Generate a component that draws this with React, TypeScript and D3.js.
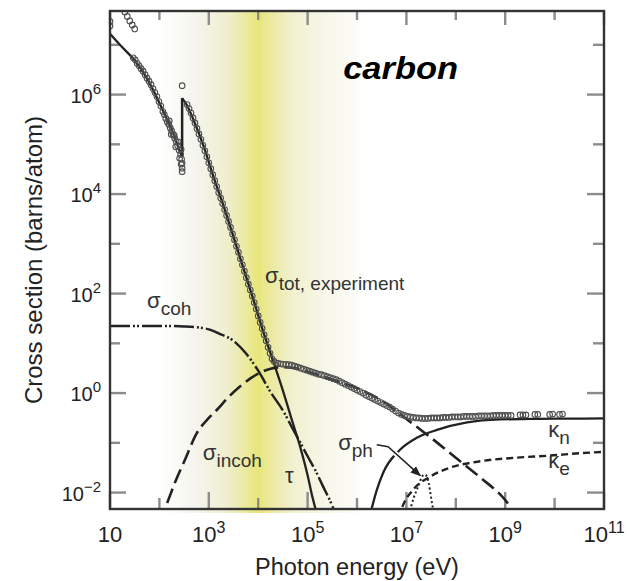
import React from 'react';
import * as d3 from 'd3';

// all values are log10: photon energy in eV, cross section in barns/atom

// experimental total cross section (open circles)
const expPoints: [number, number][] = [
  [1.0, 7.47], [1.0, 7.38], [1.3, 7.66], [1.35, 7.57], [1.4, 7.48], [1.45, 7.4], [1.5, 7.32],
  [1.47, 6.74], [1.51, 6.7], [1.55, 6.63], [1.59, 6.58], [1.63, 6.52], [1.67, 6.47], [1.71, 6.4],
  [1.75, 6.33], [1.79, 6.27], [1.83, 6.2], [1.87, 6.12], [1.91, 6.04], [1.95, 5.96], [1.99, 5.86],
  [2.03, 5.77], [2.07, 5.66], [2.1, 5.6], [2.13, 5.52], [2.16, 5.45], [2.19, 5.4], [2.22, 5.33],
  [2.25, 5.27], [2.28, 5.2], [2.31, 5.12], [2.34, 5.05], [2.37, 4.97], [2.4, 4.88], [2.43, 4.8],
  [2.45, 4.7], [2.46, 4.62], [2.46, 4.52],
  [2.2, 5.47], [2.24, 5.2], [2.3, 5.18], [2.33, 4.95], [2.38, 5.05], [2.41, 4.72], [2.44, 4.9],
  [2.44, 4.6], [2.46, 4.45],
  [2.46, 6.18],
  [2.56, 5.8], [2.6, 5.72], [2.64, 5.63], [2.68, 5.53], [2.72, 5.43], [2.76, 5.32], [2.8, 5.21],
  [2.84, 5.1], [2.88, 4.98], [2.92, 4.87], [2.96, 4.75], [3.0, 4.63], [3.04, 4.51], [3.08, 4.39],
  [3.12, 4.27], [3.16, 4.15], [3.2, 4.03], [3.24, 3.92], [3.28, 3.81], [3.32, 3.69], [3.36, 3.57],
  [3.4, 3.45], [3.44, 3.33], [3.48, 3.2], [3.52, 3.08], [3.56, 2.95], [3.6, 2.83], [3.64, 2.7],
  [3.68, 2.58], [3.72, 2.45], [3.76, 2.32], [3.8, 2.19], [3.84, 2.07], [3.88, 1.95], [3.92, 1.82],
  [3.96, 1.69], [4.0, 1.55], [4.04, 1.42], [4.08, 1.3], [4.12, 1.17], [4.16, 1.05], [4.2, 0.92],
  [4.24, 0.8], [4.28, 0.69],
  [4.32, 0.64], [4.36, 0.61], [4.4, 0.6], [4.45, 0.59], [4.5, 0.58], [4.56, 0.58], [4.62, 0.57],
  [4.68, 0.56], [4.74, 0.54], [4.8, 0.52], [4.86, 0.5], [4.92, 0.48], [4.98, 0.46], [5.04, 0.44],
  [5.1, 0.42], [5.16, 0.4], [5.22, 0.38], [5.28, 0.37], [5.34, 0.35], [5.4, 0.33], [5.46, 0.31],
  [5.52, 0.29], [5.58, 0.27], [5.64, 0.24], [5.7, 0.21], [5.76, 0.18], [5.82, 0.15], [5.88, 0.12],
  [5.94, 0.09], [6.0, 0.06], [6.06, 0.03], [6.12, 0.0], [6.18, -0.04], [6.24, -0.07], [6.3, -0.1],
  [6.36, -0.13], [6.42, -0.16], [6.48, -0.19], [6.54, -0.22], [6.6, -0.25], [6.66, -0.28],
  [6.72, -0.32], [6.78, -0.36], [6.84, -0.4], [6.9, -0.43], [6.96, -0.45], [7.02, -0.47],
  [7.08, -0.48], [7.14, -0.49], [7.2, -0.5], [7.26, -0.5], [7.32, -0.51], [7.38, -0.51],
  [7.44, -0.51], [7.5, -0.5], [7.56, -0.5], [7.62, -0.5], [7.68, -0.5], [7.74, -0.49], [7.8, -0.49],
  [7.86, -0.49], [7.92, -0.48], [7.98, -0.48], [8.04, -0.48], [8.1, -0.48], [8.16, -0.47],
  [8.22, -0.47], [8.28, -0.47], [8.34, -0.47], [8.4, -0.47], [8.46, -0.46], [8.52, -0.46],
  [8.58, -0.46], [8.64, -0.46], [8.7, -0.46], [8.76, -0.45], [8.82, -0.45], [8.88, -0.45],
  [8.94, -0.45], [9.0, -0.45], [9.06, -0.45], [9.12, -0.45],
  [9.3, -0.44], [9.36, -0.44], [9.42, -0.44], [9.6, -0.43], [9.66, -0.43], [9.9, -0.43],
  [9.96, -0.42], [10.1, -0.43], [10.16, -0.42],
];

// photoelectric tau (solid), split at the carbon K edge
const tauPreE = [1.0, 1.2, 1.47, 1.67, 1.87, 2.07, 2.26, 2.38, 2.46];
const tauPreS = [7.22, 7.0, 6.72, 6.45, 6.1, 5.68, 5.27, 4.95, 4.75];
const tauPostE = [2.46, 2.56, 2.7, 2.9, 3.1, 3.3, 3.5, 3.7, 3.9, 4.1, 4.3, 4.5, 4.7, 4.85, 5.0, 5.1, 5.18];
const tauPostS = [5.93, 5.78, 5.47, 4.95, 4.33, 3.76, 3.14, 2.51, 1.89, 1.24, 0.65, 0.05, -0.6, -1.08, -1.65, -2.1, -2.4];

// coherent (Rayleigh), dash-dot-dot
const cohE = [1.0, 1.5, 2.0, 2.5, 2.8, 3.0, 3.2, 3.5, 3.75, 4.0, 4.25, 4.5, 4.7, 4.85, 5.0, 5.15, 5.3, 5.5, 5.55];
const cohS = [1.35, 1.35, 1.35, 1.34, 1.32, 1.28, 1.2, 1.05, 0.8, 0.45, 0.02, -0.35, -0.72, -0.99, -1.27, -1.54, -1.85, -2.27, -2.4];

// incoherent (Compton), long dashes
const incohE = [2.0, 2.11, 2.36, 2.5, 2.76, 3.0, 3.17, 3.4, 3.63, 3.85, 4.04, 4.25, 4.5, 4.75, 5.0, 5.5, 6.0, 6.5, 7.0, 7.5, 8.0, 8.5, 9.0, 9.2];
const incohS = [-2.6, -2.33, -1.69, -1.38, -0.8, -0.5, -0.33, -0.08, 0.13, 0.3, 0.41, 0.49, 0.52, 0.5, 0.43, 0.27, 0.1, -0.15, -0.52, -0.9, -1.3, -1.7, -2.15, -2.42];

// pair production, nuclear field (solid)
const kapNE = [6.25, 6.3, 6.4, 6.53, 6.87, 7.21, 7.62, 8.23, 8.89, 9.5, 10.0, 11.0];
const kapNS = [-2.5, -2.31, -1.95, -1.6, -1.14, -0.9, -0.74, -0.59, -0.53, -0.52, -0.515, -0.51];

// pair production, electron field (short dashes)
const kapEE = [6.85, 6.91, 7.13, 7.48, 7.88, 8.5, 9.2, 9.85, 10.5, 11.0];
const kapES = [-2.5, -2.31, -1.95, -1.68, -1.5, -1.37, -1.3, -1.26, -1.21, -1.18];

// photonuclear (dotted)
const phE = [7.05, 7.15, 7.25, 7.33, 7.38, 7.45, 7.5, 7.56];
const phS = [-2.45, -2.1, -1.85, -1.66, -1.64, -1.8, -2.1, -2.45];

const xTickExp = [1, 2, 3, 4, 5, 6, 7, 8, 9, 10, 11];
const xLabelExp = [1, 3, 5, 7, 9, 11];
const yTickExp = [-2, -1, 0, 1, 2, 3, 4, 5, 6, 7];
const yLabelExp = [-2, 0, 2, 4, 6];

const curveLabels = [
  { main: 'σ', sub: 'coh', e: 1.75, s: 1.72 },
  { main: 'σ', sub: 'tot, experiment', e: 4.14, s: 2.21 },
  { main: 'σ', sub: 'incoh', e: 2.88, s: -1.34 },
  { main: 'τ', sub: '', e: 4.54, s: -1.8 },
  { main: 'σ', sub: 'ph', e: 5.62, s: -1.14 },
  { main: 'κ', sub: 'n', e: 9.87, s: -0.88 },
  { main: 'κ', sub: 'e', e: 9.87, s: -1.5 },
];
const arrowPts = [[6.4, -1.04], [6.63, -1.08], [7.28, -1.66]];

const font = 'Liberation Sans, Arial, Helvetica, sans-serif';

export default function App() {
  const x = d3.scaleLog().domain([1e1, 1e11]).range([110, 604]);
  const y = d3.scaleLog().domain([10 ** -2.33, 10 ** 7.68]).range([509, 11]);
  const px = (e: number) => x(10 ** e);
  const py = (s: number) => y(10 ** s);
  const zip = (a: number[], b: number[]) => a.map((v, i) => [v, b[i]]);
  const line = d3.line<number[]>().x(d => px(d[0])).y(d => py(d[1])).curve(d3.curveMonotoneX);
  const straight = d3.line<number[]>().x(d => px(d[0])).y(d => py(d[1]));

  const [x0, x1] = x.range();
  const [y1, y0] = y.range();

  const gradStops: [number, string][] = [
    [2.0, '#ffffff'], [2.8, '#f4f4ec'], [3.4, '#efeecb'], [3.75, '#ebea9f'], [4.0, '#e8e67a'],
    [4.25, '#ebe99e'], [4.65, '#f1f0cd'], [5.3, '#f6f6e8'], [6.25, '#ffffff'],
  ];
  const g0 = px(2.0), g1 = px(6.25);

  const tickCol = '#8c8c8c';
  const ink = '#222';

  return (
    <svg width={630} height={581} style={{ position: 'absolute', left: 0, top: 0, background: '#fff' }}>
      <defs>
        <linearGradient id="band" gradientUnits="userSpaceOnUse" x1={g0} x2={g1} y1={0} y2={0}>
          {gradStops.map(([e, c], i) => (
            <stop key={i} offset={(px(e) - g0) / (g1 - g0)} stopColor={c} />
          ))}
        </linearGradient>
        <clipPath id="plot">
          <rect x={x0} y={y0} width={x1 - x0} height={y1 - y0} />
        </clipPath>
        <marker id="head" viewBox="0 0 10 10" refX={9} refY={5} markerWidth={7} markerHeight={7} orient="auto">
          <path d="M0,1 L10,5 L0,9 z" fill={ink} />
        </marker>
      </defs>

      <rect x={x0} y={y0} width={x1 - x0} height={y1 - y0 + 4} fill="url(#band)" />

      {/* ticks */}
      {xTickExp.map(e => {
        const xx = x(10 ** e);
        return (
          <g key={'xt' + e} stroke={tickCol} strokeWidth={2.4}>
            <line x1={xx} x2={xx} y1={y1} y2={y1 - (e % 2 ? 17 : 11)} />
            <line x1={xx} x2={xx} y1={y0} y2={y0 + (e % 2 ? 14 : 9)} />
          </g>
        );
      })}
      {yTickExp.map(e => {
        const yy = y(10 ** e);
        return (
          <g key={'yt' + e} stroke={tickCol} strokeWidth={2.4}>
            <line x1={x0} x2={x0 + (e % 2 ? 10 : 16)} y1={yy} y2={yy} />
            <line x1={x1} x2={x1 - (e % 2 ? 11 : 17)} y1={yy} y2={yy} />
          </g>
        );
      })}

      <g clipPath="url(#plot)" fill="none" stroke={ink}>
        <path d={line(zip(tauPreE, tauPreS)) ?? ''} strokeWidth={2.3} />
        <path d={straight([[tauPreE[tauPreE.length - 1], tauPreS[tauPreS.length - 1]], [tauPostE[0], tauPostS[0]]]) ?? ''} strokeWidth={2.5} />
        <path d={line(zip(tauPostE, tauPostS)) ?? ''} strokeWidth={2.3} />
        <path d={line(zip(cohE, cohS)) ?? ''} strokeWidth={2.5} strokeDasharray="20 3 2 2 2 3" />
        <path d={line(zip(incohE, incohS)) ?? ''} strokeWidth={2.6} strokeDasharray="15 6" />
        <path d={line(zip(kapNE, kapNS)) ?? ''} strokeWidth={2.3} />
        <path d={line(zip(kapEE, kapES)) ?? ''} strokeWidth={2.4} strokeDasharray="7 4" />
        <path d={line(zip(phE, phS)) ?? ''} strokeWidth={2} strokeDasharray="2 2.5" />
      </g>

      <g clipPath="url(#plot)">
        {expPoints.map((d, i) => (
          <circle key={i} cx={px(d[0])} cy={py(d[1])} r={2.8} fill="none" stroke="#505050" strokeWidth={1.1} />
        ))}
      </g>

      {/* photonuclear arrow */}
      <path d={straight(arrowPts) ?? ''} fill="none" stroke="#fff" strokeWidth={5} />
      <path d={straight(arrowPts) ?? ''} fill="none" stroke={ink} strokeWidth={1.5} markerEnd="url(#head)" />

      <rect x={x0} y={y0} width={x1 - x0} height={y1 - y0} fill="none" stroke="#333" strokeWidth={2.4} />

      {/* tick labels */}
      <g fontFamily={font} fill={ink}>
        {xLabelExp.map(e => (
          <text key={'xl' + e} x={x(10 ** e)} y={542} fontSize={22} textAnchor="middle">
            10{e !== 1 && <tspan fontSize={16} dy={-9}>{e}</tspan>}
          </text>
        ))}
        {yLabelExp.map(e => (
          <text key={'yl' + e} x={101} y={y(10 ** e) + 8} fontSize={20} textAnchor="end">
            10<tspan fontSize={15} dy={-9}>{e < 0 ? '\u2212' + -e : e}</tspan>
          </text>
        ))}
      </g>

      {/* curve labels */}
      <g fontFamily={font} fill="#333">
        {curveLabels.map((l, i) => (
          <text key={'cl' + i} x={px(l.e)} y={py(l.s)} fontSize={22}>
            {l.main}
            {l.sub && <tspan fontSize={19} dy={7}>{l.sub}</tspan>}
          </text>
        ))}
      </g>

      <text x={px(5.72)} y={py(6.32)} fontFamily={font} fontSize={32} fontWeight="bold" fontStyle="italic"
        fill="#000" textLength={115} lengthAdjust="spacingAndGlyphs">carbon</text>

      <text x={(x0 + x1) / 2} y={575} fontFamily={font} fontSize={23.5} textAnchor="middle" fill={ink}>
        Photon energy (eV)
      </text>
      <text transform={`translate(42, ${(y0 + y1) / 2}) rotate(-90)`} fontFamily={font} fontSize={24}
        textAnchor="middle" fill={ink}>
        Cross section (barns/atom)
      </text>
    </svg>
  );
}
